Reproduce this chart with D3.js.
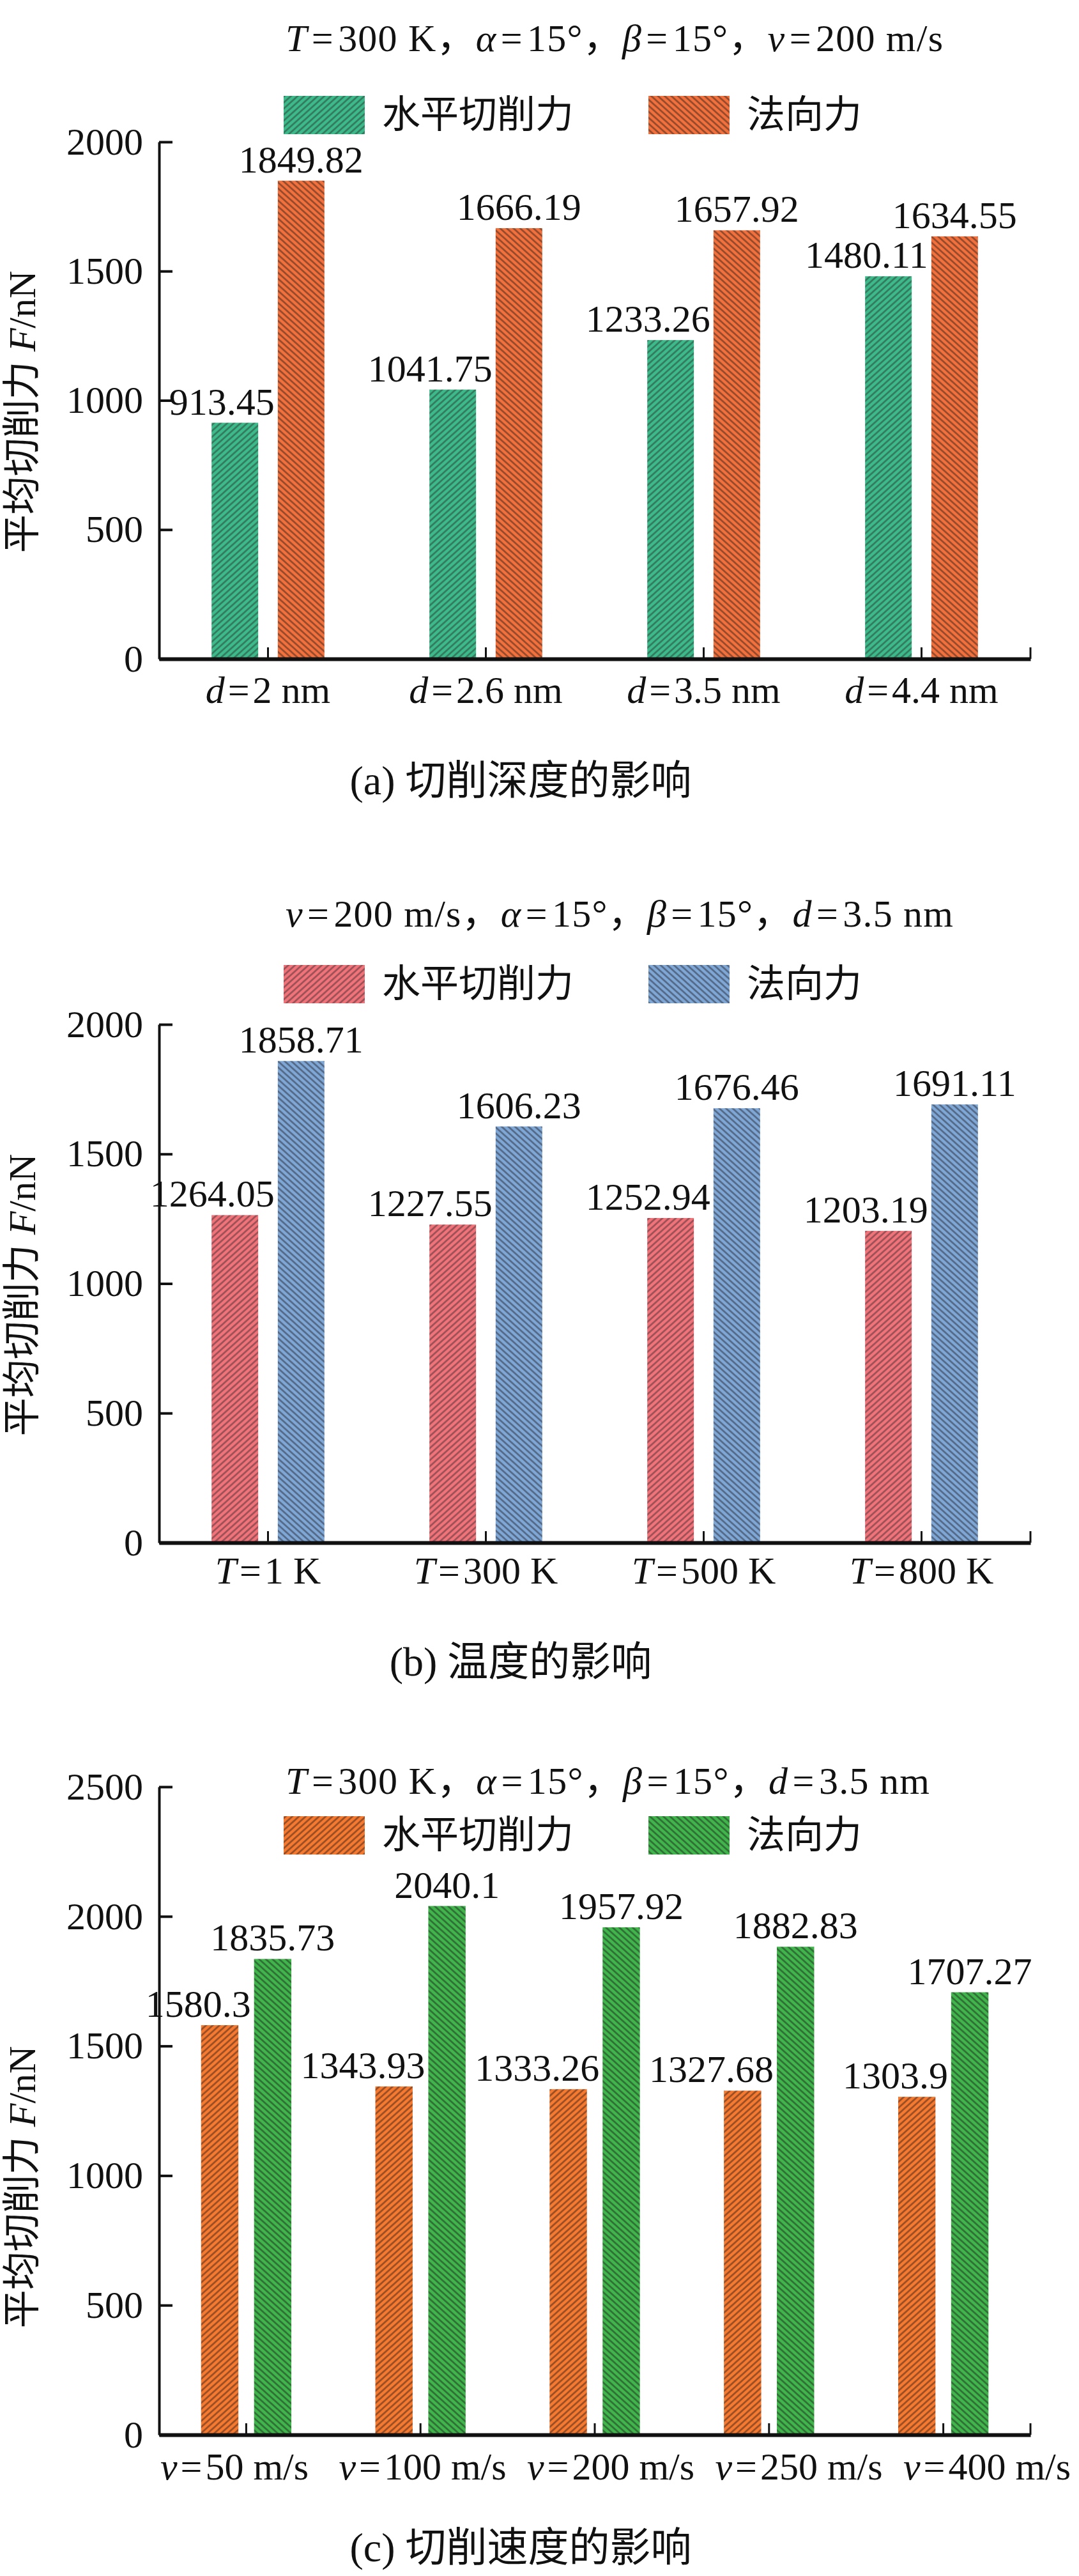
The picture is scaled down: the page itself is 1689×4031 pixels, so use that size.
<!DOCTYPE html>
<html lang="zh">
<head>
<meta charset="UTF-8">
<title>平均切削力</title>
<script src="https://cdn.jsdelivr.net/npm/d3@7/dist/d3.min.js"></script>
<style>
  body { margin: 0; background: #fff; }
  text { font-family: "Liberation Serif", "Times New Roman", "Noto Sans CJK SC", serif; fill: #111; }
</style>
</head>
<body>
<div id="chart"></div>

<script>
// ---- data ----
const seriesNames = ["水平切削力", "法向力"];

// (a) cutting depth
const depthCats   = ["d=2 nm", "d=2.6 nm", "d=3.5 nm", "d=4.4 nm"];
const depthHoriz  = [913.45, 1041.75, 1233.26, 1480.11];
const depthNormal = [1849.82, 1666.19, 1657.92, 1634.55];

// (b) temperature
const tempCats    = ["T=1 K", "T=300 K", "T=500 K", "T=800 K"];
const tempHoriz   = [1264.05, 1227.55, 1252.94, 1203.19];
const tempNormal  = [1858.71, 1606.23, 1676.46, 1691.11];

// (c) cutting speed
const speedCats   = ["v=50 m/s", "v=100 m/s", "v=200 m/s", "v=250 m/s", "v=400 m/s"];
const speedHoriz  = [1580.3, 1343.93, 1333.26, 1327.68, 1303.9];
const speedNormal = [1835.73, 2040.1, 1957.92, 1882.83, 1707.27];

const ticks2000 = [0, 500, 1000, 1500, 2000];
const ticks2500 = [0, 500, 1000, 1500, 2000, 2500];

const titles = [
    "T=300 K，α=15°，β=15°，v=200 m/s",
    "v=200 m/s，α=15°，β=15°，d=3.5 nm",
    "T=300 K，α=15°，β=15°，d=3.5 nm"
];
const captions = ["(a) 切削深度的影响", "(b) 温度的影响", "(c) 切削速度的影响"];
const yTitle = ["平均切削力 ", "F", "/nN"];

// ---- layout ----
const W = 1689, H = 4031;
const left = 249, right = 1613;
const FS = 60;

const panels = [
    { cats: depthCats, vals: [depthHoriz, depthNormal], ticks: ticks2000,
      fills: ["#3dba8b", "#f2703c"], lines: ["#33745a", "#8a472c"],
      top: 222, zero: 1031, titleY: 80, titleLen: 1029, legendY: 180, catY: 1100, capY: 1243 },
    { cats: tempCats, vals: [tempHoriz, tempNormal], ticks: ticks2000,
      fills: ["#f0737a", "#7ea7d6"], lines: ["#934e53", "#51637e"],
      top: 1603, zero: 2414, titleY: 1450, titleLen: 1045, legendY: 1540, catY: 2478, capY: 2622 },
    { cats: speedCats, vals: [speedHoriz, speedNormal], ticks: ticks2500,
      fills: ["#f5792f", "#40b54b"], lines: ["#8f4a25", "#2f6834"],
      top: 2796, zero: 3810, titleY: 2807, titleLen: 1008, legendY: 2872, catY: 3880, capY: 4008,
      catRange: [367, 1545] }
];

const svg = d3.select("#chart").append("svg")
    .attr("width", W)
    .attr("height", H);

svg.append("rect").attr("width", W).attr("height", H).attr("fill", "#fff");

const defs = svg.append("defs");

// hatch pattern: series 0 "/" , series 1 "\"
function hatch(id, fill, line, angle) {
    const p = defs.append("pattern")
        .attr("id", id)
        .attr("patternUnits", "userSpaceOnUse")
        .attr("width", 7).attr("height", 7)
        .attr("patternTransform", `rotate(${angle})`);
    p.append("rect").attr("width", 7).attr("height", 7).attr("fill", fill);
    p.append("line")
        .attr("x1", 0).attr("y1", 3.5).attr("x2", 7).attr("y2", 3.5)
        .attr("stroke", line).attr("stroke-width", 2.5);
}

// writes "d=2 nm" style text: variable letter italic, hair gaps round "="
function varText(sel, str) {
    const i = str.indexOf("=");
    sel.append("tspan").attr("font-style", "italic").text(str.slice(0, i));
    sel.append("tspan").text("\u200A=\u200A" + str.slice(i + 1));
}

panels.forEach((p, pi) => {
    p.fills.forEach((f, si) => hatch(`h${pi}${si}`, f, p.lines[si], si === 0 ? -42 : 42));

    const yMax = d3.max(p.ticks);
    const y = d3.scaleLinear().domain([0, yMax]).range([p.zero, p.top]);

    const x0 = d3.scaleBand().domain(p.cats).range([left, right]).padding(0);
    const bw = x0.bandwidth();
    const x1 = d3.scaleBand().domain([0, 1])
        .range([0.241 * bw, 0.759 * bw]).paddingInner(0.296).paddingOuter(0);

    const rows = p.cats.map((c, i) => ({ cat: c, vals: p.vals.map(s => s[i]) }));

    // bars
    const grp = svg.append("g").selectAll("g")
        .data(rows)
        .join("g")
        .attr("transform", d => `translate(${x0(d.cat)},0)`);

    grp.selectAll("rect")
        .data(d => d.vals.map((v, si) => ({ v, si })))
        .join("rect")
        .attr("x", d => x1(d.si))
        .attr("y", d => y(d.v))
        .attr("width", x1.bandwidth())
        .attr("height", d => y(0) - y(d.v))
        .attr("fill", d => `url(#h${pi}${d.si})`);

    // value labels (first series sits just left of the second bar)
    grp.selectAll("text.val")
        .data(d => d.vals.map((v, si) => ({ v, si })))
        .join("text")
        .attr("class", "val")
        .attr("font-size", FS)
        .attr("text-anchor", d => d.si === 0 ? "end" : "middle")
        .attr("x", d => d.si === 0 ? x1(1) - 5 : x1(1) + x1.bandwidth() / 2)
        .attr("y", d => y(d.v) - 13)
        .text(d => String(d.v));

    // y axis
    const yAxis = svg.append("g")
        .attr("transform", `translate(${left},0)`)
        .call(d3.axisLeft(y).tickValues(p.ticks).tickFormat(d3.format("d"))
            .tickSize(-21).tickSizeOuter(0).tickPadding(25));
    yAxis.select(".domain").attr("stroke", "#111").attr("stroke-width", 4);
    yAxis.selectAll(".tick line").attr("stroke", "#111").attr("stroke-width", 4);
    yAxis.selectAll(".tick text")
        .attr("font-size", FS)
        .attr("font-family", "Liberation Serif, Times New Roman, serif")
        .attr("fill", "#111");

    // x axis
    const xAxis = svg.append("g")
        .attr("transform", `translate(0,${p.zero})`)
        .call(d3.axisBottom(x0).tickSize(-18).tickSizeOuter(0).tickFormat(() => ""));
    xAxis.select(".domain").attr("stroke", "#111").attr("stroke-width", 6);
    xAxis.selectAll(".tick line").attr("stroke", "#111").attr("stroke-width", 3);
    xAxis.append("line")
        .attr("x1", x0.range()[1]).attr("x2", x0.range()[1])
        .attr("y1", 0).attr("y2", -18)
        .attr("stroke", "#111").attr("stroke-width", 3);

    // category labels
    const lx = p.catRange
        ? d3.scalePoint().domain(p.cats).range(p.catRange)
        : (c => x0(c) + bw / 2);
    p.cats.forEach(c => {
        const t = svg.append("text")
            .attr("x", lx(c)).attr("y", p.catY)
            .attr("text-anchor", "middle")
            .attr("font-size", FS);
        varText(t, c);
    });

    // condition title
    const tt = svg.append("text")
        .attr("x", 447).attr("y", p.titleY)
        .attr("font-size", FS)
        .attr("textLength", p.titleLen)
        .attr("lengthAdjust", "spacing");
    titles[pi].split("，").forEach((part, k, arr) => {
        varText(tt, part);
        if (k < arr.length - 1) tt.append("tspan").text("，");
    });

    // legend
    const legX = [444, 1015];
    seriesNames.forEach((n, si) => {
        svg.append("rect")
            .attr("x", legX[si]).attr("y", p.legendY - 30)
            .attr("width", 127).attr("height", 60)
            .attr("fill", `url(#h${pi}${si})`);
        svg.append("text")
            .attr("x", legX[si] + 154).attr("y", p.legendY)
            .attr("dominant-baseline", "central")
            .attr("font-size", FS)
            .text(n);
    });

    // y title
    const yt = svg.append("text")
        .attr("transform", `translate(35,${(p.zero + y(2000)) / 2 + 18}) rotate(-90)`)
        .attr("text-anchor", "middle")
        .attr("dominant-baseline", "central")
        .attr("font-size", FS);
    yt.append("tspan").text(yTitle[0]);
    yt.append("tspan").attr("font-style", "italic").text(yTitle[1]);
    yt.append("tspan").text(yTitle[2]);

    // caption
    svg.append("text")
        .attr("x", 815).attr("y", p.capY)
        .attr("text-anchor", "middle")
        .attr("font-size", 64)
        .text(captions[pi]);
});
</script>
</body>
</html>
